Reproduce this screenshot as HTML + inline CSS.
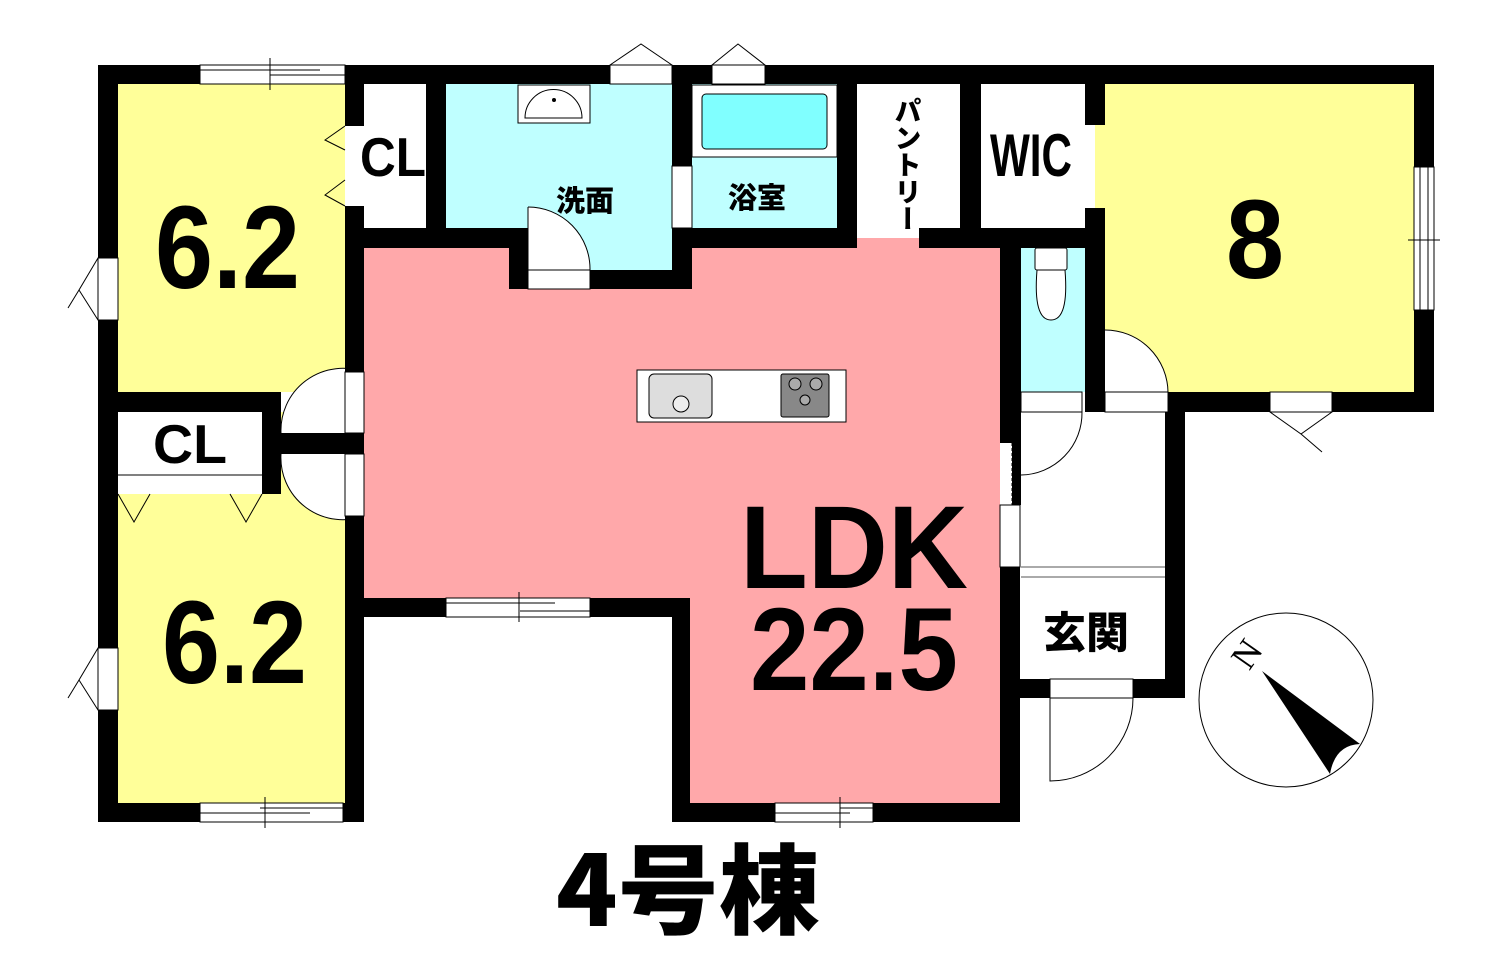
<!DOCTYPE html>
<html><head><meta charset="utf-8"><style>
html,body{margin:0;padding:0;background:#fff;}
svg{display:block;}
text{font-family:"Liberation Sans","Noto Sans CJK JP",sans-serif;font-weight:bold;fill:#000;}
.j{font-family:"Noto Sans CJK JP",sans-serif;font-weight:900;}
</style></head><body>
<svg width="1502" height="974" viewBox="0 0 1502 974" xmlns="http://www.w3.org/2000/svg">
<rect x="118" y="84" width="227" height="308" fill="#ffff99"/>
<rect x="118" y="412" width="227" height="391" fill="#ffff99"/>
<rect x="1095" y="84" width="320" height="308" fill="#ffff99"/>
<rect x="364" y="248" width="636" height="350" fill="#ffa8aa"/>
<rect x="690" y="590" width="310" height="213" fill="#ffa8aa"/>
<rect x="446" y="84" width="226" height="144" fill="#bfffff"/>
<rect x="528" y="220" width="144" height="50" fill="#bfffff"/>
<rect x="692" y="84" width="145" height="144" fill="#bfffff"/>
<rect x="1021" y="248" width="64" height="144" fill="#bfffff"/>
<rect x="364" y="84" width="62" height="144" fill="#fff"/>
<rect x="857" y="84" width="103" height="154" fill="#fff"/>
<rect x="857" y="238" width="62" height="10" fill="#ffa8aa"/>
<rect x="981" y="84" width="104" height="144" fill="#fff"/>
<rect x="118" y="412" width="144" height="82" fill="#fff"/>
<line x1="118" y1="475" x2="262" y2="475" stroke="#000" stroke-width="1"/>
<rect x="1021" y="412" width="144" height="268" fill="#fff"/>
<line x1="1021" y1="567" x2="1165" y2="567" stroke="#555" stroke-width="1"/>
<line x1="1021" y1="577" x2="1165" y2="577" stroke="#555" stroke-width="1"/>
<g fill="#fff" stroke="none">
<path d="M364 372A62 62 0 0 0 281 433H364Z"/>
<path d="M364 516A62 62 0 0 1 281 454H364Z"/>
<path d="M528 207A62 62 0 0 1 590 270H528Z"/>
<path d="M1105 330A63 63 0 0 1 1168 392H1105Z"/>
<path d="M1021 475A62 62 0 0 0 1082 412H1021Z"/>
</g>
<g fill="#000">
<rect x="98" y="65" width="1336" height="19"/>
<rect x="98" y="65" width="20" height="757"/>
<rect x="98" y="803" width="266" height="19"/>
<rect x="345" y="65" width="19" height="757"/>
<rect x="426" y="65" width="20" height="183"/>
<rect x="345" y="228" width="164" height="20"/>
<rect x="509" y="228" width="19" height="61"/>
<rect x="590" y="270" width="100" height="19"/>
<rect x="672" y="65" width="20" height="224"/>
<rect x="672" y="228" width="185" height="20"/>
<rect x="837" y="65" width="20" height="183"/>
<rect x="919" y="228" width="183" height="20"/>
<rect x="960" y="65" width="21" height="183"/>
<rect x="1085" y="65" width="20" height="60"/>
<rect x="1085" y="208" width="20" height="204"/>
<rect x="1414" y="65" width="20" height="347"/>
<rect x="1168" y="392" width="266" height="20"/>
<rect x="1165" y="392" width="20" height="306"/>
<rect x="1000" y="248" width="21" height="195"/>
<rect x="1012" y="443" width="9" height="62"/>
<rect x="1000" y="567" width="20" height="255"/>
<rect x="1000" y="679" width="185" height="19"/>
<rect x="345" y="598" width="345" height="19"/>
<rect x="672" y="598" width="18" height="224"/>
<rect x="672" y="803" width="348" height="19"/>
<rect x="98" y="392" width="183" height="20"/>
<rect x="262" y="392" width="19" height="102"/>
<rect x="281" y="433" width="83" height="21"/>
</g>
<g fill="#fff" stroke="#000" stroke-width="1">
<rect x="345" y="372" width="19" height="61"/>
<rect x="345" y="454" width="19" height="62"/>
<rect x="345" y="126" width="19" height="80" stroke="none"/>
<rect x="528" y="270" width="62" height="19"/>
<rect x="672" y="166" width="20" height="62"/>
<rect x="1021" y="392" width="61" height="20"/>
<rect x="1105" y="392" width="63" height="20"/>
<rect x="1000" y="505" width="20" height="62"/>
<rect x="1050" y="679" width="83" height="19"/>
<rect x="1270" y="392" width="62" height="20"/>
<rect x="610" y="65" width="62" height="19"/>
<rect x="712" y="65" width="53" height="19"/>
<rect x="98" y="258" width="20" height="62"/>
<rect x="98" y="648" width="20" height="62"/>
<rect x="1414" y="167" width="20" height="143"/>
<rect x="200" y="65" width="145" height="19"/>
<rect x="200" y="803" width="143" height="19"/>
<rect x="446" y="598" width="144" height="19"/>
<rect x="775" y="803" width="98" height="19"/>
</g>
<g stroke="#000" stroke-width="1" fill="none">
<path d="M200 70H320M270 75H345M270 58V90"/>
<path d="M200 813H310M260 808H343M265 797V828"/>
<path d="M446 603H555M520 611H590M519 592V622"/>
<path d="M775 813H850M840 808H873M840 797V828"/>
<path d="M1420 167V310M1428 167V310M1408 240H1440"/>
<path d="M1012 443V505" stroke-dasharray="3,2"/>
<path d="M610 65L641 44L672 65M712 65L738 44L765 65"/>
<path d="M98 258L79 290L98 320M79 290L68 308"/>
<path d="M98 648L79 680L98 710M79 680L68 698"/>
<path d="M1270 412L1301 434L1332 412M1301 434L1322 452"/>
<path d="M345 126L325 140L345 150M345 180L325 195L345 206"/>
<path d="M118 494L134 522L150 494M230 494L246 522L262 494"/>
<path d="M364 372A62 62 0 0 0 281 433"/>
<path d="M364 516A62 62 0 0 1 281 454"/>
<path d="M528 207A62 62 0 0 1 590 270"/>
<path d="M528 207V270"/>
<path d="M1021 475A62 62 0 0 0 1082 412"/>
<path d="M1105 330A63 63 0 0 1 1168 392"/>
<path d="M1050 698V781A83 83 0 0 0 1133 698"/>
</g>
<rect x="518" y="85" width="72" height="38" fill="#fff" stroke="#000"/>
<path d="M525 118A27 27 0 0 1 582 118Z" fill="#fff" stroke="#000"/>
<circle cx="554" cy="100" r="2" fill="#000"/>
<rect x="692" y="85" width="145" height="72" fill="#fff" stroke="#000"/>
<rect x="702" y="94" width="125" height="55" rx="4" fill="#80ffff" stroke="#000"/>
<rect x="1035" y="248" width="32" height="22" rx="2" fill="#fff" stroke="#000"/>
<path d="M1037 270Q1033 320 1051 320Q1069 320 1065 270Z" fill="#fff" stroke="#000"/>
<rect x="637" y="370" width="209" height="52" fill="#fff" stroke="#000"/>
<rect x="649" y="374" width="63" height="44" rx="5" fill="#ddd" stroke="#000"/>
<circle cx="681" cy="404" r="8" fill="#eee" stroke="#000"/>
<rect x="781" y="374" width="48" height="43" rx="2" fill="#888" stroke="#000"/>
<circle cx="795" cy="384" r="6" fill="#aaa" stroke="#000"/><circle cx="816" cy="384" r="6" fill="#aaa" stroke="#000"/><circle cx="805" cy="400" r="5" fill="#aaa" stroke="#000"/>
<ellipse cx="1286" cy="700" rx="87" ry="87" fill="none" stroke="#000"/>
<path d="M1262 671L1360 744Q1335 745 1330 774Z" fill="#000"/>
<text x="1238" y="670" style="font-family:'Liberation Serif',serif;font-weight:normal" font-size="36" transform="rotate(-55 1245 660)">N</text>
<text x="155" y="288" font-size="118" textLength="145" lengthAdjust="spacingAndGlyphs">6.2</text>
<text x="162" y="683" font-size="118" textLength="145" lengthAdjust="spacingAndGlyphs">6.2</text>
<text x="1226" y="278" font-size="112" textLength="58" lengthAdjust="spacingAndGlyphs">8</text>
<text x="740" y="588" font-size="118" textLength="228" lengthAdjust="spacingAndGlyphs">LDK</text>
<text x="750" y="690" font-size="118" textLength="208" lengthAdjust="spacingAndGlyphs">22.5</text>
<text x="360" y="176" font-size="55" textLength="66" lengthAdjust="spacingAndGlyphs">CL</text>
<text x="153" y="463" font-size="55" textLength="74" lengthAdjust="spacingAndGlyphs">CL</text>
<text x="990" y="176" font-size="60" textLength="82" lengthAdjust="spacingAndGlyphs">WIC</text>
<text class="j" x="556" y="211" font-size="29">洗面</text>
<text class="j" x="728" y="208" font-size="29">浴室</text>
<text class="j" x="1043" y="648" font-size="43">玄関</text>
<text class="j" x="896" y="97" font-size="27" style="writing-mode:vertical-rl" transform="translate(12 0)">パントリー</text>
<text class="j" x="556" y="926" font-size="98" textLength="264" lengthAdjust="spacingAndGlyphs">4号棟</text>
</svg>
</body></html>
